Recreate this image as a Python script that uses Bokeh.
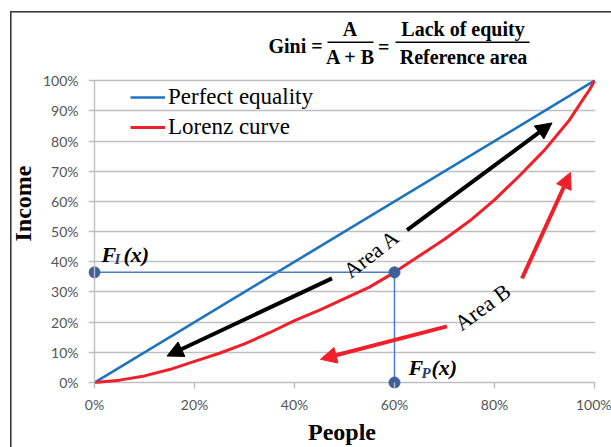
from bokeh.plotting import figure
from bokeh.models import (Range1d, FixedTicker, NumeralTickFormatter, Label,
                          Arrow, NormalHead, ColumnDataSource, Legend, LegendItem)
from bokeh.embed import file_html
from bokeh.resources import INLINE

# ---------------- data ----------------
people = [0, .05, .1, .15, .2, .25, .3, .35, .4, .45, .5, .55, .6, .65, .7,
          .75, .8, .85, .9, .95, .975, .99, 1.0]
lorenz = [0, .008, .022, .043, .07, .097, .128, .165, .205, .24, .278, .316,
          .365, .42, .475, .535, .605, .685, .77, .87, .933, .97, 1.0]
equality_people = [0, 1]
equality_income = [0, 1]

x_ticks = [0, .2, .4, .6, .8, 1.0]
y_ticks = [0, .1, .2, .3, .4, .5, .6, .7, .8, .9, 1.0]

point_people = 0.6      # F_P(x)
point_income = 0.365    # F_I(x)

black_x_start = [0.625, 0.475]
black_y_start = [0.505, 0.345]
black_x_end = [0.915, 0.145]
black_y_end = [0.860, 0.088]

red_x_start = [0.705, 0.855]
red_y_start = [0.186, 0.345]
red_x_end = [0.452, 0.952]
red_y_end = [0.077, 0.696]

# ---------------- layout helpers (pixel -> data) ----------------
X0, SX = 94.0, 500.0      # px of x=0, px per unit
Y0, SY = 385.0, 304.3     # px of y=0, px per unit


def dx(px):
    return (px - X0) / SX


def dy(py):
    return (Y0 - py) / SY


W, H = 611, 447
FRAME_L, FRAME_R, FRAME_T, FRAME_B = 88, 595, 18, 391

p = figure(width=W, height=H, output_backend="svg", toolbar_location=None,
           x_range=Range1d(dx(FRAME_L), dx(FRAME_R)),
           y_range=Range1d(dy(FRAME_B), dy(FRAME_T)),
           min_border_left=FRAME_L, min_border_right=W - FRAME_R,
           min_border_top=FRAME_T, min_border_bottom=H - FRAME_B)
p.outline_line_color = None
p.background_fill_color = "white"
p.border_fill_alpha = 0
FRAME_C = "#3A3A3A"
p.styles = {
    "background-color": "white",
    "background-image": f"linear-gradient({FRAME_C}, {FRAME_C}), linear-gradient({FRAME_C}, {FRAME_C})",
    "background-size": "1.6px 100%, 100% 1.6px",
    "background-position": "10px 11px, 10px 11px",
    "background-repeat": "no-repeat",
}

GRID = "#BFBFBF"
p.xgrid.visible = False
p.ygrid.ticker = FixedTicker(ticks=y_ticks)
p.ygrid.grid_line_color = GRID
p.ygrid.grid_line_width = 1.4

p.xaxis.ticker = FixedTicker(ticks=x_ticks)
p.yaxis.ticker = FixedTicker(ticks=y_ticks)
p.xaxis.formatter = NumeralTickFormatter(format="0%")
p.yaxis.formatter = NumeralTickFormatter(format="0%")
SERIF = "Liberation Serif"
for ax in (p.xaxis, p.yaxis):
    ax.axis_line_color = None
    ax.minor_tick_line_color = None
    ax.major_label_text_font = "Lato"
    ax.major_label_text_font_size = "14px"
    ax.major_label_text_color = "#555555"
    ax.axis_label_text_font = SERIF
    ax.axis_label_text_font_size = "24px"
    ax.axis_label_text_font_style = "bold"
    ax.axis_label_text_color = "black"
p.xaxis.axis_label = "People"
p.yaxis.axis_label = "Income"
p.xaxis.axis_label_standoff = 3
p.yaxis.axis_label_standoff = 4
p.xaxis.major_tick_in = 6
p.xaxis.major_tick_out = 0
p.xaxis.major_tick_line_color = GRID
p.xaxis.major_tick_line_width = 1.4
p.xaxis.major_label_standoff = 7
p.yaxis.major_tick_in = 0
p.yaxis.major_tick_out = 0
p.yaxis.major_tick_line_color = None
p.yaxis.major_label_standoff = 10

# vertical axis line at x = 0
p.add_layout(Arrow(x_start=x_ticks[0], y_start=y_ticks[0], x_end=x_ticks[0], y_end=y_ticks[-1],
                   line_color=GRID, line_width=1.4, end=None))

BLUE = "#1E73BE"
RED = "#F0202A"
GUIDE = "#4A7CC4"
MARK = "#3E5F97"

blue = p.line(equality_people, equality_income, line_color=BLUE, line_width=2.6)
red = p.line(people, lorenz, line_color=RED, line_width=3)

p.line([0, point_people], [point_income, point_income], line_color=GUIDE, line_width=1.5)
p.line([point_people, point_people], [0, point_income], line_color=GUIDE, line_width=1.5)
p.scatter([0, point_people, point_people], [point_income, point_income, 0],
          size=11, fill_color=MARK, line_color=MARK)

black_src = ColumnDataSource(dict(xs=black_x_start, ys=black_y_start,
                                  xe=black_x_end, ye=black_y_end))
red_src = ColumnDataSource(dict(xs=red_x_start, ys=red_y_start,
                                xe=red_x_end, ye=red_y_end))
p.add_layout(Arrow(source=black_src, x_start="xs", y_start="ys", x_end="xe", y_end="ye",
                   line_color="black", line_width=4,
                   end=NormalHead(size=16, fill_color="black", line_color="black")))
p.add_layout(Arrow(source=red_src, x_start="xs", y_start="ys", x_end="xe", y_end="ye",
                   line_color=RED, line_width=4,
                   end=NormalHead(size=16, fill_color=RED, line_color=RED)))

BASE_FIX = 7  # alphabetic labels render this many px low


def label(text, px, py, size, style="normal", align="left", baseline="alphabetic",
          angle=0, color="black"):
    if baseline == "alphabetic":
        py = py - BASE_FIX
    p.add_layout(Label(x=dx(px), y=dy(py), text=text, text_font=SERIF,
                       text_font_size=f"{size}px", text_font_style=style,
                       text_align=align, text_baseline=baseline, text_color=color,
                       angle=angle, angle_units="deg"))


# Area labels
label("Area A", 371, 255, 22, align="center", baseline="middle", angle=38)
label("Area B", 482, 309, 22, align="center", baseline="middle", angle=36)

# F_I(x), F_P(x)
SUB = "#1F3A6E"
label("F", 101, 263, 22, style="bold italic")
label("I", 114, 267, 15, style="bold italic", color=SUB)
label("(x)", 123, 263, 22, style="bold italic")
label("F", 408, 377, 22, style="bold italic")
label("P", 421, 382, 15, style="bold italic", color=SUB)
label("(x)", 431, 377, 22, style="bold italic")

# formula
label("Gini =", 268, 52.3, 20, style="bold")
label("A", 349.5, 35.7, 20, style="bold", align="center")
label("A + B", 350, 64.3, 20, style="bold", align="center")
label("=", 383.3, 46.7, 20, style="bold", align="center", baseline="middle")
label("Lack of equity", 462.5, 35.7, 20, style="bold", align="center")
label("Reference area", 463, 64.3, 20, style="bold", align="center")
for x_a, x_b in ((327, 373), (395, 529)):
    p.add_layout(Arrow(x_start=dx(x_a), y_start=dy(42), x_end=dx(x_b), y_end=dy(42),
                       line_color="black", line_width=1.5, end=None))

legend = Legend(items=[LegendItem(label="Perfect equality", renderers=[blue]),
                       LegendItem(label="Lorenz curve", renderers=[red])],
                location=(42, 248), orientation="vertical", padding=0, margin=0,
                spacing=4, glyph_width=35, glyph_height=26, label_height=26,
                label_standoff=3, label_text_font=SERIF, label_text_font_size="23px",
                label_text_color="black", border_line_color=None,
                background_fill_alpha=0)
p.add_layout(legend)

open("out.html", "w").write(file_html(p, INLINE))
